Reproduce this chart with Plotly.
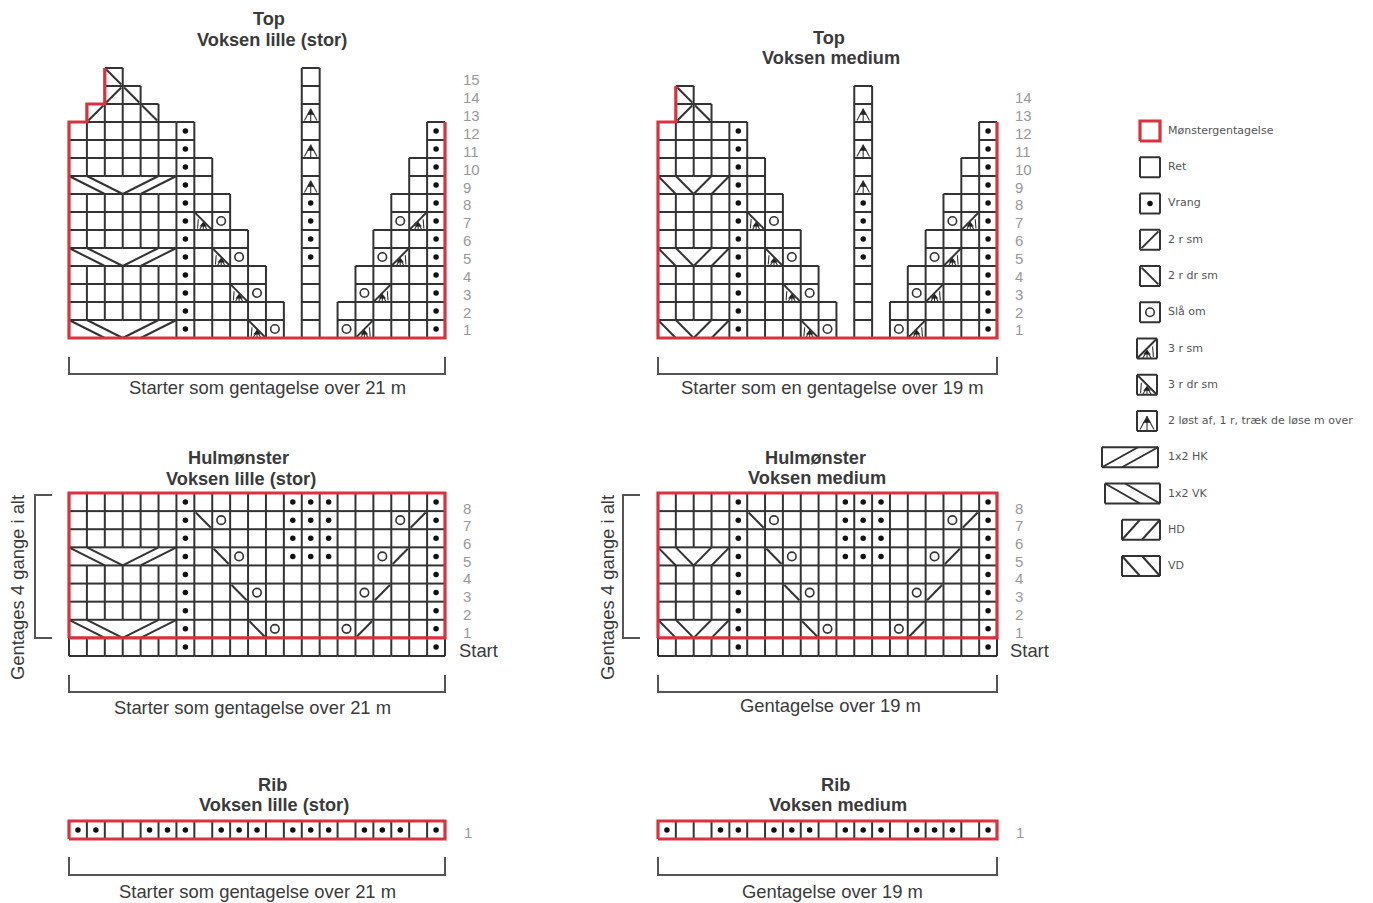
import plotly.graph_objects as go

W, H = 1373, 903

# ---- chart data: one string per row, row 1 first ----
# . no cell, k ret, p vrang, o slaa om, / 2 r sm, \ 2 r dr sm,
# A 3 r sm, B 3 r dr sm, ^ 2 loest af, c cable cell
TOP_STOR = [
    "ccccccpkkkBo.k.oAkkkp",
    "kkkkkkpkkkkk.k.kkkkkp",
    "kkkkkkpkkBo..k..oAkkp",
    "kkkkkkpkkkk..k..kkkkp",
    "ccccccpkBo...p...oAkp",
    "kkkkkkpkkk...p...kkkp",
    "kkkkkkpBo....p....oAp",
    "kkkkkkpkk....p....kkp",
    "ccccccpk.....^.....kp",
    "kkkkkkpk.....k.....kp",
    "kkkkkkp......^......p",
    "kkkkkkp......k......p",
    "./kk\\........^.......",
    "../\\.........k.......",
    "..\\..........k.......",
]
TOP_MEDIUM = [
    "ccccpkkkBo.k.oAkkkp",
    "kkkkpkkkkk.k.kkkkkp",
    "kkkkpkkBo..k..oAkkp",
    "kkkkpkkkk..k..kkkkp",
    "ccccpkBo...p...oAkp",
    "kkkkpkkk...p...kkkp",
    "kkkkpBo....p....oAp",
    "kkkkpkk....p....kkp",
    "ccccpk.....^.....kp",
    "kkkkpk.....k.....kp",
    "kkkkp......^......p",
    "kkkkp......k......p",
    "./\\........^.......",
    ".\\.........k.......",
]
HUL_STOR = [
    "kkkkkkpkkkkkkkkkkkkkp",   # Start
    "ccccccpkkk\\okkko/kkkp",
    "kkkkkkpkkkkkkkkkkkkkp",
    "kkkkkkpkk\\okkkkko/kkp",
    "kkkkkkpkkkkkkkkkkkkkp",
    "ccccccpk\\okkpppkko/kp",
    "kkkkkkpkkkkkpppkkkkkp",
    "kkkkkkp\\okkkpppkkko/p",
    "kkkkkkpkkkkkpppkkkkkp",
]
HUL_MEDIUM = [
    "kkkkpkkkkkkkkkkkkkp",     # Start
    "ccccpkkk\\okkko/kkkp",
    "kkkkpkkkkkkkkkkkkkp",
    "kkkkpkk\\okkkkko/kkp",
    "kkkkpkkkkkkkkkkkkkp",
    "ccccpk\\okkpppkko/kp",
    "kkkkpkkkkkpppkkkkkp",
    "kkkkp\\okkkpppkkko/p",
    "kkkkpkkkkkpppkkkkkp",
]
RIB_STOR = ["ppkkpppkpppkpppkpppkp"]
RIB_MEDIUM = ["pkkppkpppkpppkpppkp"]

TOP_ROW_LABELS_STOR = [str(i) for i in range(1, 16)]
TOP_ROW_LABELS_MEDIUM = [str(i) for i in range(1, 15)]
HUL_ROW_LABELS = ["1", "2", "3", "4", "5", "6", "7", "8"]

# repeat outline, in cell units (column edge, row edge)
OUTLINE_TOP_STOR = [(2, 15), (2, 13), (1, 13), (1, 12), (0, 12), (0, 0), (21, 0), (21, 12)]
OUTLINE_TOP_MEDIUM = [(1, 14), (1, 12), (0, 12), (0, 0), (19, 0), (19, 12)]
OUTLINE_HUL_STOR = [(0, 1), (0, 9), (21, 9), (21, 1), (0, 1)]
OUTLINE_HUL_MEDIUM = [(0, 1), (0, 9), (19, 9), (19, 1), (0, 1)]
OUTLINE_RIB_STOR = [(0, 0), (0, 1), (21, 1), (21, 0), (0, 0)]
OUTLINE_RIB_MEDIUM = [(0, 0), (0, 1), (19, 1), (19, 0), (0, 0)]
OUTLINE_LEGEND = [(0, 0), (0, 1), (1, 1), (1, 0), (0, 0)]

LEGEND_LABELS = ["Mønstergentagelse", "Ret", "Vrang", "2 r sm", "2 r dr sm", "Slå om", "3 r sm",
                 "3 r dr sm", "2 løst af, 1 r, træk de løse m over", "1x2 HK", "1x2 VK", "HD", "VD"]
LEGEND_CODES = ["R", "k", "p", "/", "\\", "o", "A", "B", "^", "H", "V", "h", "v"]

# ---- style ----
INK = "#333333"
RED = "#d8323e"
GRID_W = 2
FONT = "Liberation Sans"

fig = go.Figure()
annotations = []
axes = {}
panel_no = [0]


def new_axes(x0, base, cw, ch):
    """An axis pair covering the page, in cell units, origin at pixel (x0, base)."""
    panel_no[0] += 1
    n = panel_no[0]
    sx = "" if n == 1 else str(n)
    common = dict(visible=False, fixedrange=True, domain=[0, 1])
    axes["xaxis" + sx] = dict(range=[(0 - x0) / cw, (W - x0) / cw], **common)
    axes["yaxis" + sx] = dict(range=[(base - H) / ch, base / ch], **common)
    return "x" + sx, "y" + sx


class Ink:
    def __init__(self):
        self.lx, self.ly = [], []
        self.fx, self.fy = [], []
        self.dx, self.dy = [], []
        self.ox, self.oy = [], []
        self.tx, self.ty = [], []

    def seg(self, a, b, c, d):
        self.lx += [a, c, None]
        self.ly += [b, d, None]

    def fine(self, a, b, c, d):
        self.fx += [a, c, None]
        self.fy += [b, d, None]


def glyph(ink, code, x, y):
    if code == "p":
        ink.dx.append(x + .5); ink.dy.append(y + .5)
    elif code == "o":
        ink.ox.append(x + .5); ink.oy.append(y + .5)
    elif code == "/":
        ink.seg(x + .08, y + .08, x + .92, y + .92)
    elif code == "\\":
        ink.seg(x + .08, y + .92, x + .92, y + .08)
    elif code in "AB":
        if code == "A":
            ink.seg(x + .05, y + .05, x + .95, y + .95)
            ink.fine(x + .78, y + .6, x + .82, y + .08)
        else:
            ink.seg(x + .05, y + .95, x + .95, y + .05)
            ink.fine(x + .22, y + .6, x + .18, y + .08)
        ink.fine(x + .5, y + .0, x + .5, y + .4)
        ink.fine(x + .28, y + .0, x + .5, y + .38)
        ink.fine(x + .5, y + .38, x + .72, y + .0)
        ink.tx.append(x + .5); ink.ty.append(y + .28)
    elif code == "^":
        ink.fine(x + .5, y + .0, x + .5, y + .75)
        ink.fine(x + .15, y + .08, x + .5, y + .72)
        ink.fine(x + .5, y + .72, x + .85, y + .08)
        ink.tx.append(x + .5); ink.ty.append(y + .5)


def cable(ink, x, y, half, down):
    """Two parallel strokes across `half` cells; down = top-left to bottom-right."""
    span = half - 1
    for k in (0, 1):
        if down:
            ink.seg(x + k, y + 1, x + k + span, y)
        else:
            ink.seg(x + k, y, x + k + span, y + 1)


def add_traces(ink, xa, ya, outline=None, dot=5.5, ring=8.5, tri=6.5):
    fig.add_trace(go.Scatter(x=ink.lx, y=ink.ly, xaxis=xa, yaxis=ya, mode="lines",
                             line=dict(color=INK, width=GRID_W), hoverinfo="skip", showlegend=False))
    fig.add_trace(go.Scatter(x=ink.fx, y=ink.fy, xaxis=xa, yaxis=ya, mode="lines",
                             line=dict(color=INK, width=1.1), hoverinfo="skip", showlegend=False))
    if outline:
        fig.add_trace(go.Scatter(x=[p[0] for p in outline], y=[p[1] for p in outline], xaxis=xa, yaxis=ya,
                                 mode="lines", line=dict(color=RED, width=3.2), hoverinfo="skip",
                                 showlegend=False))
    fig.add_trace(go.Scatter(x=ink.dx, y=ink.dy, xaxis=xa, yaxis=ya, mode="markers",
                             marker=dict(symbol="circle", size=dot, color="#111"), hoverinfo="skip",
                             showlegend=False))
    fig.add_trace(go.Scatter(x=ink.ox, y=ink.oy, xaxis=xa, yaxis=ya, mode="markers",
                             marker=dict(symbol="circle-open", size=ring, color=INK, line=dict(width=1.6, color=INK)),
                             hoverinfo="skip", showlegend=False))
    fig.add_trace(go.Scatter(x=ink.tx, y=ink.ty, xaxis=xa, yaxis=ya, mode="markers",
                             marker=dict(symbol="triangle-up", size=tri, color="#222"), hoverinfo="skip",
                             showlegend=False))


def draw_chart(rows, x0, base, cw, ch, outline):
    xa, ya = new_axes(x0, base, cw, ch)
    ink = Ink()
    edges = set()
    for r, row in enumerate(rows):
        for c, code in enumerate(row):
            if code == ".":
                continue
            edges.add((c, r, c + 1, r))
            edges.add((c, r + 1, c + 1, r + 1))
            if not (c > 0 and row[c - 1] == "c" and code == "c"):
                edges.add((c, r, c, r + 1))
            if not (c + 1 < len(row) and row[c + 1] == "c" and code == "c"):
                edges.add((c + 1, r, c + 1, r + 1))
            glyph(ink, code, c, r)
        n = row.count("c")
        if n:
            half = n // 2
            cable(ink, 0, r, half, True)
            cable(ink, half, r, half, False)
    for e in sorted(edges):
        ink.seg(*e)
    add_traces(ink, xa, ya, outline)


def txt(text, px, py, size, color="#3a3a3a", bold=False, anchor="center", family=FONT, angle=0):
    annotations.append(dict(
        text="<b>%s</b>" % text if bold else text, x=px / W, y=1 - py / H, xref="paper", yref="paper",
        showarrow=False, xanchor=anchor, yanchor="middle", textangle=angle, borderpad=0,
        font=dict(size=size, color=color, family=family)))


def labels(values, px, first_py, pitch):
    for i, v in enumerate(values):
        txt(v, px, first_py - i * pitch, 15, color="#999999", anchor="left")


def bracket(x0, x1, y0, y1, xa, ya):
    fig.add_trace(go.Scatter(x=[x0, x0, x1, x1], y=[y0, y1, y1, y0], xaxis=xa, yaxis=ya, mode="lines",
                             line=dict(color="#555", width=2), hoverinfo="skip", showlegend=False))


# ---- charts ----
CW_L, CW_M, CH_TOP, CH_HUL, CH_RIB = 376 / 21, 339 / 19, 18.0, 163 / 9, 18.0

draw_chart(TOP_STOR, 69, 338, CW_L, CH_TOP, OUTLINE_TOP_STOR)
draw_chart(TOP_MEDIUM, 658, 338, CW_M, CH_TOP, OUTLINE_TOP_MEDIUM)
draw_chart(HUL_STOR, 69, 656, CW_L, CH_HUL, OUTLINE_HUL_STOR)
draw_chart(HUL_MEDIUM, 658, 656, CW_M, CH_HUL, OUTLINE_HUL_MEDIUM)
draw_chart(RIB_STOR, 69, 839, CW_L, CH_RIB, OUTLINE_RIB_STOR)
draw_chart(RIB_MEDIUM, 658, 839, CW_M, CH_RIB, OUTLINE_RIB_MEDIUM)

# brackets share a page-pixel axis pair
xp, yp = new_axes(0, H, 1, 1)
for x0, x1 in ((69, 445), (658, 997)):
    bracket(x0, x1, H - 357, H - 374, xp, yp)
    bracket(x0, x1, H - 675, H - 692, xp, yp)
    bracket(x0, x1, H - 857, H - 875, xp, yp)
for x0 in (35, 623):
    fig.add_trace(go.Scatter(x=[x0 + 17, x0, x0, x0 + 17], y=[H - 495, H - 495, H - 638, H - 638],
                             xaxis=xp, yaxis=yp, mode="lines", line=dict(color="#555", width=2),
                             hoverinfo="skip", showlegend=False))

# ---- legend ----
xl, yl = new_axes(1140, 141, 20, 20)
LEGEND_PITCH = 36.25 / 20
LEGEND_LEFT = {"A": -.15, "B": -.15, "^": -.15, "H": -1.9, "V": -1.75, "h": -.9, "v": -.9}
LEGEND_WIDE = {"H": 2.8, "V": 2.75, "h": 1.9, "v": 1.9}
ink = Ink()
for i, code in enumerate(LEGEND_CODES):
    y = -i * LEGEND_PITCH
    x = LEGEND_LEFT.get(code, 0)
    w = LEGEND_WIDE.get(code, 1)
    if code != "R":
        for e in ((x, y, x + w, y), (x, y + 1, x + w, y + 1), (x, y, x, y + 1), (x + w, y, x + w, y + 1)):
            ink.seg(*e)
    if code in "HVhv":
        half = w - 1
        for k in (0, 1):
            if code in "Hh":
                ink.seg(x + k * (w - half), y, x + half + k * (w - half), y + 1)
            else:
                ink.seg(x + k * (w - half), y + 1, x + half + k * (w - half), y)
    elif code != "R":
        glyph(ink, code, x, y)
    txt(LEGEND_LABELS[i], 1167, 130.5 + i * 36.25, 11, color="#555", anchor="left", family="DejaVu Sans")
add_traces(ink, xl, yl, OUTLINE_LEGEND)

# ---- text ----
TS, CS = 18.2, 18.4
txt("Top", 269, 19, TS, bold=True)
txt("Voksen lille (stor)", 272, 40, TS, bold=True)
txt("Top", 829, 38, TS, bold=True)
txt("Voksen medium", 831, 58, TS, bold=True)
txt("Hulmønster", 238, 458, TS, bold=True)
txt("Voksen lille (stor)", 241, 479, TS, bold=True)
txt("Hulmønster", 815, 458, TS, bold=True)
txt("Voksen medium", 817, 478, TS, bold=True)
txt("Rib", 272, 785, TS, bold=True)
txt("Voksen lille (stor)", 274, 805, TS, bold=True)
txt("Rib", 835, 785, TS, bold=True)
txt("Voksen medium", 838, 805, TS, bold=True)

txt("Starter som gentagelse over 21 m", 267, 387.5, CS)
txt("Starter som en gentagelse over 19 m", 832, 387.5, CS)
txt("Starter som gentagelse over 21 m", 252, 707.5, CS)
txt("Gentagelse over 19 m", 830, 705.5, CS)
txt("Starter som gentagelse over 21 m", 257, 891.5, CS)
txt("Gentagelse over 19 m", 832, 891.5, CS)
txt("Gentages 4 gange i alt", 17, 588, CS, angle=-90)
txt("Gentages 4 gange i alt", 607, 588, CS, angle=-90)
txt("Start", 458, 650.5, CS, anchor="left")
txt("Start", 1009, 650.5, CS, anchor="left")

labels(TOP_ROW_LABELS_STOR, 462, 330, 17.86)
labels(TOP_ROW_LABELS_MEDIUM, 1014, 330, 17.86)
labels(HUL_ROW_LABELS, 462, 632, 17.7)
labels(HUL_ROW_LABELS, 1014, 632, 17.7)
labels(["1"], 463, 832, 18)
labels(["1"], 1015, 832, 18)

fig.update_layout(width=W, height=H, margin=dict(l=0, r=0, t=0, b=0), paper_bgcolor="white",
                  plot_bgcolor="rgba(0,0,0,0)", showlegend=False, annotations=annotations, **axes)
fig.write_html("out.html", post_script="document.body.style.margin='0';document.documentElement.style.overflow='hidden';",
               config={"displayModeBar": False})
